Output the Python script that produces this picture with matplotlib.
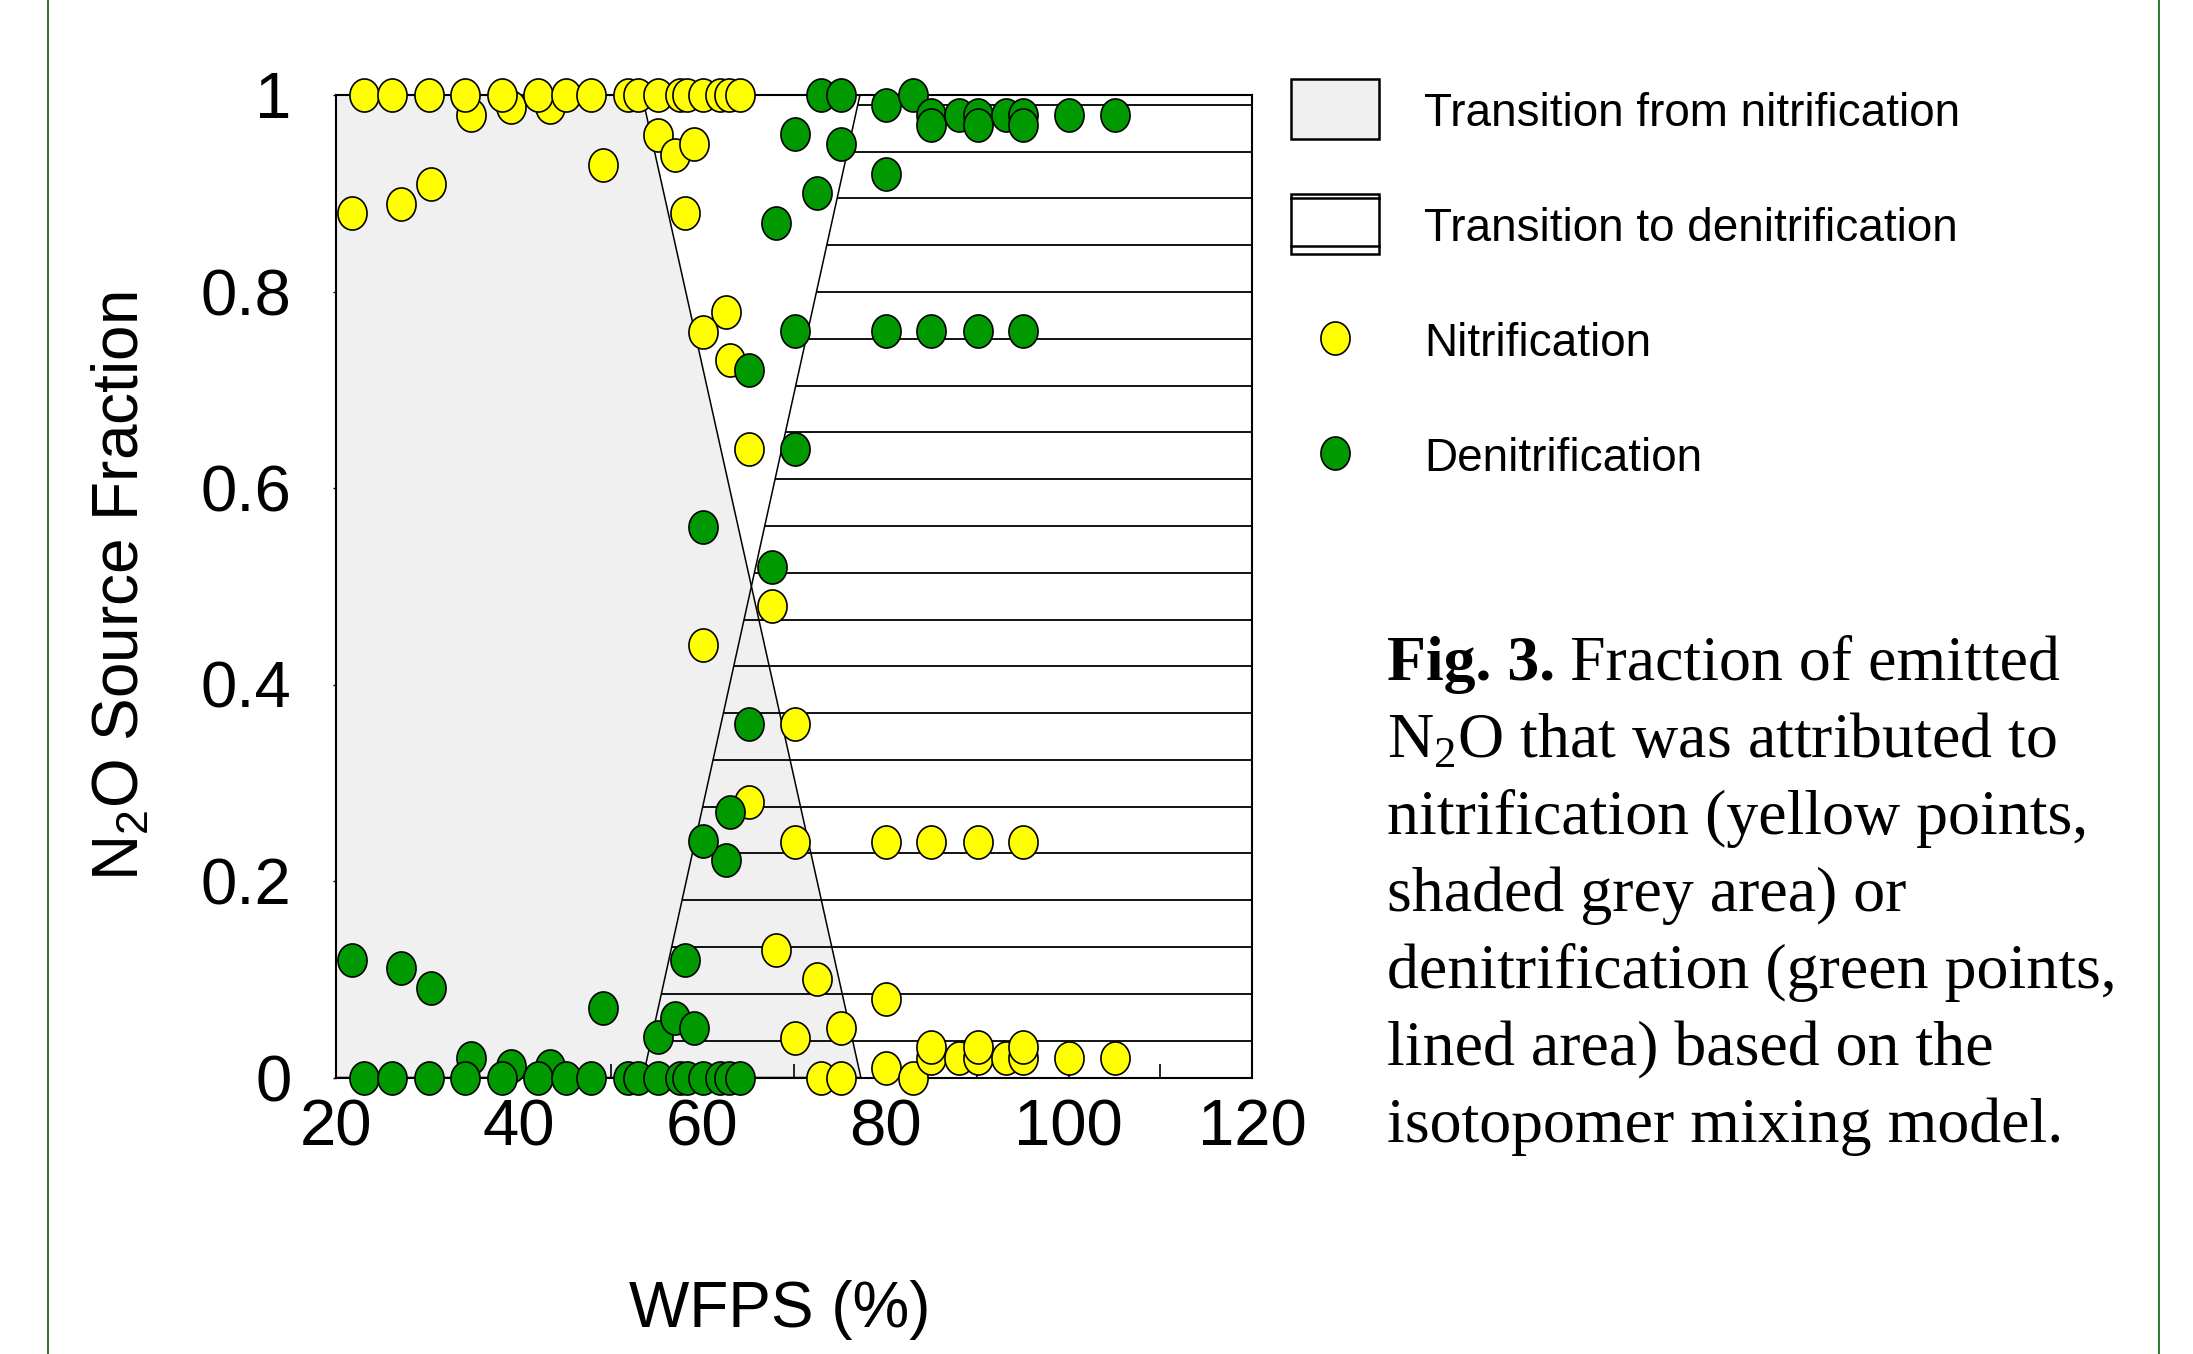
import numpy as np
import matplotlib
matplotlib.use('Agg')
import matplotlib.pyplot as plt
from matplotlib import font_manager
from matplotlib.patches import Polygon, Rectangle
from matplotlib.lines import Line2D

# samples: WFPS (%) and fraction of N2O from each source
wfps = [34.7, 39.1, 43.4,
        23.1, 26.1, 30.1, 34.1, 38.1, 42.1, 45.1, 47.8, 51.9, 53.0, 55.1, 57.6, 58.3, 60.1, 61.9, 62.9, 64.1,
        21.7, 27.1, 30.4, 49.1, 55.1, 57.0, 59.1, 58.1, 62.6, 60.1, 63.0, 65.1, 60.1, 67.6, 70.1, 65.1,
        70.1, 68.0, 72.5, 80.0, 75.1, 70.1, 73.0, 75.1, 80.0, 83.0,
        85.0, 85.0, 88.0, 90.1, 90.1, 93.1, 95.0, 95.0, 100.0, 105.0,
        80.0, 85.0, 90.1, 95.0]
nitrification = [0.980, 0.988, 0.988,
                 1.0, 1.0, 1.0, 1.0, 1.0, 1.0, 1.0, 1.0, 1.0, 1.0, 1.0, 1.0, 1.0, 1.0, 1.0, 1.0, 1.0,
                 0.880, 0.889, 0.909, 0.929, 0.959, 0.939, 0.950, 0.880, 0.779, 0.759, 0.730, 0.640, 0.440, 0.480, 0.360, 0.280,
                 0.240, 0.130, 0.100, 0.080, 0.050, 0.040, 0.0, 0.0, 0.010, 0.0,
                 0.020, 0.031, 0.020, 0.020, 0.031, 0.020, 0.020, 0.031, 0.020, 0.020,
                 0.240, 0.240, 0.240, 0.240]
denitrification = [0.020, 0.012, 0.012,
                   0.0, 0.0, 0.0, 0.0, 0.0, 0.0, 0.0, 0.0, 0.0, 0.0, 0.0, 0.0, 0.0, 0.0, 0.0, 0.0, 0.0,
                   0.120, 0.111, 0.091, 0.071, 0.041, 0.061, 0.050, 0.120, 0.221, 0.241, 0.270, 0.360, 0.560, 0.520, 0.640, 0.720,
                   0.760, 0.870, 0.900, 0.920, 0.950, 0.960, 1.0, 1.0, 0.990, 1.0,
                   0.980, 0.969, 0.980, 0.980, 0.969, 0.980, 0.980, 0.969, 0.980, 0.980,
                   0.760, 0.760, 0.760, 0.760]

# transition zones (WFPS at fraction 0 and 1)
nit_zone_x = [20, 20, 53.4, 77.3]
nit_zone_y = [0, 1, 1, 0]
den_zone_x = [53.5, 77.2, 120, 120]
den_zone_y = [0, 1, 1, 0]

xticks = [20, 40, 60, 80, 100, 120]
xticklabels = ['20', '40', '60', '80', '100', '120']
yticks = [0, 0.2, 0.4, 0.6, 0.8, 1]
yticklabels = ['0', '0.2', '0.4', '0.6', '0.8', '1']

legend_labels = ['Transition from nitrification', 'Transition to denitrification',
                 'Nitrification', 'Denitrification']
caption_head = 'Fig. 3.'
caption = ['Fraction of emitted',
           r'N$_\mathregular{2}$O that was attributed to',
           'nitrification (yellow points,',
           'shaded grey area) or',
           'denitrification (green points,',
           'lined area) based on the',
           'isotopomer mixing model.']

YELLOW = '#ffff00'
GREEN = '#009900'
GREY = '#f0f0f0'

plt.rcParams['font.family'] = ['Liberation Sans', 'DejaVu Sans']

names = {f.name for f in font_manager.fontManager.ttflist}
if 'Liberation Sans Narrow' in names:
    leg_family, leg_size = ['Liberation Sans Narrow', 'Liberation Sans'], 41
else:
    leg_family, leg_size = ['Liberation Sans'], 33

W, H = 2193, 1354
fig = plt.figure(figsize=(W / 100, H / 100), dpi=100)

def px(x, y):
    # full-size pixel position -> figure fraction
    return x / W, 1 - y / H

ax = fig.add_axes([336 / W, 1 - 1077.5 / H, 916 / W, 982.5 / H])
ax.set_xlim(20, 120)
ax.set_ylim(0, 1)

# slightly tall ellipse marker
t = np.linspace(0, 2 * np.pi, 64)
ell = np.column_stack([0.88 * np.cos(t), np.sin(t)])
ms = 23.8

ax.fill(nit_zone_x, nit_zone_y, facecolor=GREY, edgecolor='black', lw=1.1, zorder=1)
den_patch = Polygon(np.column_stack([den_zone_x, den_zone_y]), closed=True,
                    facecolor='none', edgecolor='none', transform=ax.transData)
hatch = ax.hlines(np.linspace(0.0375, 0.99, 21), 20, 120, colors='black', lw=1.3, zorder=2)
hatch.set_clip_path(den_patch)
ax.plot(den_zone_x[:2], den_zone_y[:2], color='black', lw=1.1, zorder=2)

ax.scatter(wfps, nitrification, s=ms ** 2, marker=ell, c=YELLOW, edgecolors='black',
           linewidths=1.2, zorder=4, clip_on=False)
ax.scatter(wfps, denitrification, s=ms ** 2, marker=ell, c=GREEN, edgecolors='black',
           linewidths=1.2, zorder=5, clip_on=False)

for s in ax.spines.values():
    s.set_linewidth(1.5)
    s.set_zorder(3)

ax.set_xticks(xticks, xticklabels)
ax.set_xticks(np.arange(30, 120, 20), minor=True)
ax.set_yticks(yticks, yticklabels)
ax.tick_params(axis='x', which='both', direction='in', length=10, width=1.2, labelsize=47, pad=15)
ax.tick_params(axis='y', direction='out', length=2, width=1, labelsize=47, pad=30)

fig.text(*px(121, 586), r'N$_\mathregular{2}$O Source Fraction', rotation=90,
         ha='center', va='center', fontsize=46)
fig.text(*px(780, 1310), 'WFPS (%)', ha='center', va='center', fontsize=46)

# legend, drawn by hand to follow the original spacing
fig.add_artist(Rectangle(px(1291, 139), 88 / W, 60 / H, transform=fig.transFigure,
                         facecolor=GREY, edgecolor='black', lw=1.8))
fig.add_artist(Rectangle(px(1291, 254), 88 / W, 60 / H, transform=fig.transFigure,
                         facecolor='white', edgecolor='black', lw=1.8))
for yy in (198, 245.5):
    fig.add_artist(Line2D([1291 / W, 1379 / W], [1 - yy / H] * 2, transform=fig.transFigure,
                          color='black', lw=1.8))
fig.add_artist(Line2D([1335 / W], [1 - 338 / H], transform=fig.transFigure, marker=ell, ms=ms,
                      mfc=YELLOW, mec='black', mew=1.2, ls='none'))
fig.add_artist(Line2D([1335 / W], [1 - 453 / H], transform=fig.transFigure, marker=ell, ms=ms,
                      mfc=GREEN, mec='black', mew=1.2, ls='none'))
for label, yy in zip(legend_labels, [114, 229, 344, 459]):
    fig.text(*px(1424, yy), label, ha='left', va='center', fontsize=leg_size, family=leg_family)

# caption: bold figure number, then the rest, one text per line
serif = ['Liberation Serif', 'DejaVu Serif']
head = fig.text(*px(1387, 694), caption_head, ha='left', va='bottom', fontsize=46,
                family=serif, weight='bold')
for i, line in enumerate(caption):
    if i == 0:
        ax.annotate(line, xy=(1, 0), xycoords=head, xytext=(11, 0), textcoords='offset points',
                    ha='left', va='bottom', fontsize=46, family=serif, annotation_clip=False)
    else:
        fig.text(*px(1387, 694 + i * 77), line, ha='left', va='bottom', fontsize=46, family=serif)

for xx in (48, 2159):
    fig.add_artist(Line2D([xx / W] * 2, [0, 1], transform=fig.transFigure, color='#1f6b1f', lw=1.3))

fig.savefig('out.png', dpi=100)
